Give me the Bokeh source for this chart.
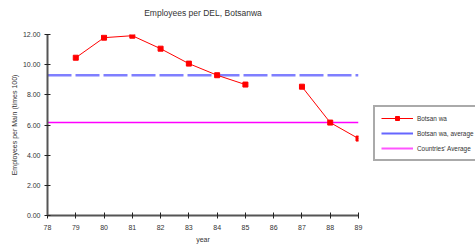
from bokeh.plotting import figure
from bokeh.layouts import row, column
from bokeh.core.properties import value
from bokeh.models import FixedTicker, NumeralTickFormatter, Legend, LegendItem, Range1d
from bokeh.embed import file_html
from bokeh.resources import INLINE

nan = float("nan")
years = [78, 79, 80, 81, 82, 83, 84, 85, 86, 87, 88, 89]
botswana = [nan, 10.46, 11.79, 11.92, 11.06, 10.07, 9.30, 8.68, nan, 8.54, 6.16, 5.10]
botswana_avg = 9.30
countries_avg = 6.16
y_ticks = [0, 2, 4, 6, 8, 10, 12]
labels = ["Botsan wa", "Botsan wa, average", "Countries' Average"]
title = "Employees per DEL, Botsanwa"

FONT = "Liberation Sans"
RED, BLUE, MAGENTA = "#ff0000", "#7f7fff", "#ff00ff"

x_range = Range1d(years[0], years[-1])

# title strip, sharing the chart's x range so the title centres over the plot area
t = figure(width=373, height=24, output_backend="svg", toolbar_location=None,
           x_range=x_range, y_range=Range1d(0, 1),
           min_border_left=47, min_border_right=15, min_border_top=0, min_border_bottom=0,
           x_axis_type=None, y_axis_type=None)
t.outline_line_color = None
t.grid.visible = False
t.text(x=[(years[0] + years[-1]) / 2], y=[0.5], text=[title],
       text_font=value(FONT), text_font_size="8.5px", text_color="#333333",
       text_align="center", text_baseline="middle")

p = figure(width=373, height=223, output_backend="svg", toolbar_location=None,
           x_range=x_range, y_range=Range1d(0, 12),
           min_border_left=47, min_border_right=15, min_border_top=10, min_border_bottom=32)
p.outline_line_color = None
p.grid.visible = False

for ax in (p.xaxis[0], p.yaxis[0]):
    ax.axis_line_color = "#555555"
    ax.axis_line_width = 2
    ax.major_tick_line_color = "#222222"
    ax.major_tick_in = 3
    ax.major_tick_out = 3
    ax.minor_tick_line_color = None
    ax.major_label_text_font = FONT
    ax.major_label_text_font_size = "7px"
    ax.major_label_text_color = "#333333"
    ax.axis_label_text_font = FONT
    ax.axis_label_text_font_size = "7px"
    ax.axis_label_text_font_style = "normal"
    ax.axis_label_text_color = "#333333"

p.xaxis.ticker = FixedTicker(ticks=years)
p.xaxis.axis_label = "year"
p.xaxis.major_label_standoff = 6
p.xaxis.axis_label_standoff = 3
p.yaxis.ticker = FixedTicker(ticks=y_ticks)
p.yaxis.formatter = NumeralTickFormatter(format="0.00")
p.yaxis.axis_label = "Employees per Main (times 100)"
p.yaxis.major_label_standoff = 4
p.yaxis.axis_label_standoff = 2

span_x = [years[0], years[-1]]
p.line(span_x, [botswana_avg, botswana_avg], line_color=BLUE, line_width=2.5, line_dash="24 4")
p.line(span_x, [countries_avg, countries_avg], line_color=MAGENTA, line_width=1.5)
p.line(years, botswana, line_color=RED, line_width=1)
p.scatter(years, botswana, marker="square", size=5, fill_color=RED, line_color=RED)

# legend panel (its renderers lie outside its ranges, so only the legend shows)
q = figure(width=102, height=247, output_backend="svg", toolbar_location=None,
           x_range=Range1d(0, 1), y_range=Range1d(0, 1),
           min_border=0, x_axis_type=None, y_axis_type=None)
q.outline_line_color = None
q.grid.visible = False
off = [5, 6]
l1 = q.line(off, off, line_color=RED, line_width=1)
l1p = q.scatter(off, off, marker="square", size=5, fill_color=RED, line_color=RED)
l2 = q.line(off, off, line_color="#6666ff", line_width=2)
l3 = q.line(off, off, line_color="#ff55ff", line_width=2)

legend = Legend(items=[
    LegendItem(label=labels[0], renderers=[l1, l1p]),
    LegendItem(label=labels[1], renderers=[l2]),
    LegendItem(label=labels[2], renderers=[l3]),
], location=(0, 86))
legend.label_text_font = FONT
legend.label_text_font_size = "6.4px"
legend.label_text_color = "#333333"
legend.glyph_width = 32
legend.glyph_height = 10
legend.label_height = 10
legend.spacing = 5
legend.padding = 6
legend.margin = 0
legend.label_standoff = 4
legend.border_line_color = "#555555"
legend.border_line_width = 2
legend.background_fill_alpha = 1
q.add_layout(legend, "center")

layout = row(column(t, p, spacing=0), q, spacing=0)
open("out.html", "w").write(file_html(layout, INLINE))
